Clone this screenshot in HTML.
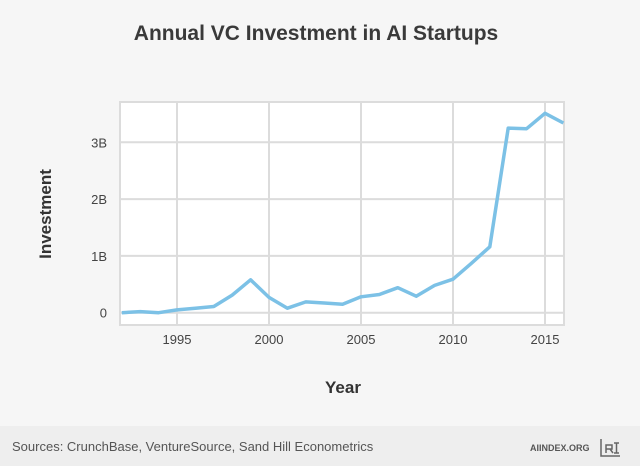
<!DOCTYPE html>
<html><head><meta charset="utf-8"><style>
body{margin:0;background:#f5f5f5;font-family:"Liberation Sans",sans-serif;}
#wrap{position:relative;width:640px;height:466px;overflow:hidden;background:#f6f6f6;}
#footer{position:absolute;left:0;top:426px;width:640px;height:40px;background:#eeeeee;}
</style></head><body>
<div id="wrap">
<div id="footer"></div>
<svg id="chart" width="640" height="466" style="position:absolute;left:0;top:0">
<text x="316" y="40" text-anchor="middle" font-size="21" font-weight="bold" fill="#3a3a3a">Annual VC Investment in AI Startups</text>
<text transform="translate(51,214) rotate(-90)" text-anchor="middle" font-size="17" font-weight="bold" fill="#333">Investment</text>
<text x="343" y="393" text-anchor="middle" font-size="17" font-weight="bold" fill="#333">Year</text>
<text x="12" y="451" font-size="13" fill="#555">Sources: CrunchBase, VentureSource, Sand Hill Econometrics</text>
<text x="530" y="451" font-size="9" font-weight="bold" fill="#555">AIINDEX.ORG</text>
<g fill="none" stroke="#666" stroke-width="1.5">
<path d="M601 439 V456 H620"/><path d="M606 453 V445 H612 V449 H606 M610 449 L613 453 M614 443 H619 M616.5 443 V453 M614 453 H619"/>
</g>
<g id="plot"></g>
</svg>
</div>
<script>
const years=[1992,1993,1994,1995,1996,1997,1998,1999,2000,2001,2002,2003,2004,2005,2006,2007,2008,2009,2010,2011,2012,2013,2014,2015,2016];
const investment=[0,0.02,0,0.05,0.08,0.11,0.31,0.58,0.27,0.08,0.19,0.17,0.15,0.28,0.32,0.44,0.29,0.48,0.59,0.87,1.16,3.25,3.24,3.51,3.34];
const xTicks=[1995,2000,2005,2010,2015];
const yTicks=[0,1,2,3];
const yTickLabels=["0","1B","2B","3B"];
const L=120,R=564,T=102,B=325;
const x=v=>177+(v-1995)*18.4;
const y=v=>312.7-v*56.8;
const ns="http://www.w3.org/2000/svg";
const g=document.getElementById('plot');
function mk(t,a){const e=document.createElementNS(ns,t);for(const k in a)e.setAttribute(k,a[k]);g.appendChild(e);return e;}
const bg=mk('rect',{x:L,y:T,width:R-L,height:B-T,fill:'#fff',stroke:'#dcdcdc','stroke-width':2});


xTicks.forEach(t=>{
 const l=mk('line',{x1:x(t),x2:x(t),y1:T,y2:B,stroke:'#dcdcdc','stroke-width':2});
 
 
 const tx=mk('text',{x:x(t),y:344,'text-anchor':'middle','font-size':13,fill:'#444'});
 tx.textContent=t;
 
 
});
yTicks.forEach((t,i)=>{
 const l=mk('line',{x1:L,x2:R,y1:y(t),y2:y(t),stroke:'#dcdcdc','stroke-width':2});
 
 
 const tx=mk('text',{x:107,y:y(t)+5,'text-anchor':'end','font-size':13,fill:'#444'});
 tx.textContent=yTickLabels[i];
 
 
});
const pts=years.map((yr,i)=>x(yr).toFixed(1)+','+y(investment[i]).toFixed(1)).join(' ');
const line=mk('polyline',{points:pts,fill:'none',stroke:'#7cc1e6','stroke-width':3.5,'stroke-linejoin':'round'});


</script>
</body></html>
